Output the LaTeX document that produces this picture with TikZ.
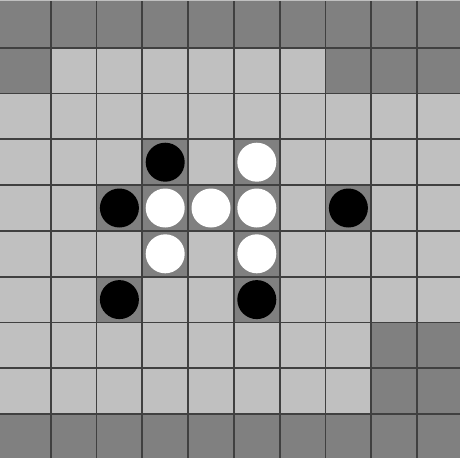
\documentclass[tikz,border=0pt]{standalone}
\definecolor{light}{HTML}{C0C0C0}
\definecolor{dark}{HTML}{808080}
\definecolor{gridc}{HTML}{404040}
\tikzset{
  darkcell/.style={fill=dark},
  gridline/.style={draw=gridc, line width=1.4pt},
  blackstone/.style={fill=black},
  whitestone/.style={fill=white}
}
\begin{document}
\begin{tikzpicture}[x=0.75pt,y=-0.75pt]
\useasboundingbox (0,0) rectangle (460,458);
\fill[light] (0,0) rectangle (460,458);
\def\cw{45.8}
\pgfmathsetmacro{\xo}{4.9}
\pgfmathsetmacro{\yo}{1.9}
% dark cells (col,row)
\foreach \c/\r in {0/0,1/0,2/0,3/0,4/0,5/0,6/0,7/0,8/0,9/0,
                   0/1,7/1,8/1,9/1,
                   8/7,9/7,8/8,9/8,
                   0/9,1/9,2/9,3/9,4/9,5/9,6/9,7/9,8/9,9/9,
                   3/3,5/3,2/4,3/4,4/4,5/4,7/4,3/5,5/5,2/6,5/6}{
  \pgfmathsetmacro{\xa}{\c==0 ? 0 : \xo+\cw*\c}
  \pgfmathsetmacro{\xb}{\c==9 ? 460 : \xo+\cw*(\c+1)}
  \pgfmathsetmacro{\ya}{\r==0 ? 1.3 : \yo+\cw*\r}
  \pgfmathsetmacro{\yb}{\r==9 ? 458 : \yo+\cw*(\r+1)}
  \fill[darkcell] (\xa,\ya) rectangle (\xb,\yb);
}
% grid lines
\foreach \j in {1,...,9}{
  \pgfmathsetmacro{\xx}{\xo+\cw*\j}
  \draw[gridline] (\xx,1.3) -- (\xx,458);
  \pgfmathsetmacro{\yy}{\yo+\cw*\j}
  \draw[gridline] (0,\yy) -- (460,\yy);
}
% stones
\foreach \c/\r/\s in {3/3/blackstone,5/3/whitestone,2/4/blackstone,3/4/whitestone,
                      4/4/whitestone,5/4/whitestone,7/4/blackstone,3/5/whitestone,
                      5/5/whitestone,2/6/blackstone,5/6/blackstone}{
  \pgfmathsetmacro{\cx}{\xo+\cw*(\c+0.5)}
  \pgfmathsetmacro{\cy}{\yo+\cw*(\r+0.5)}
  \fill[\s] (\cx,\cy) circle[radius=19.5];
}
\end{tikzpicture}
\end{document}
